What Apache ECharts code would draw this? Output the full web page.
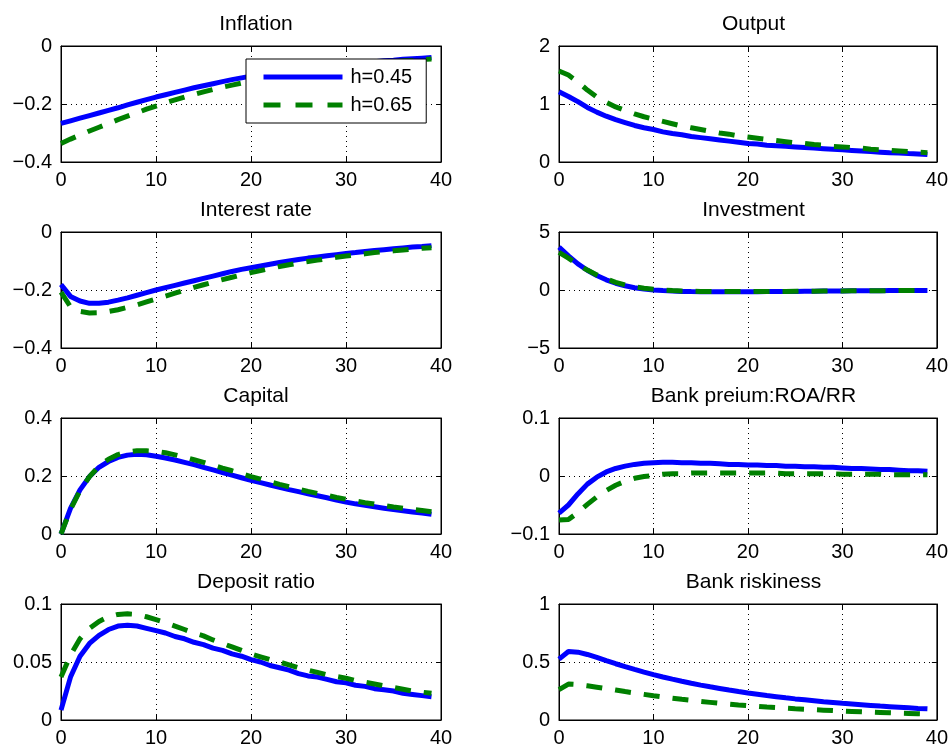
<!DOCTYPE html>
<html><head><meta charset="utf-8">
<script src="https://cdn.jsdelivr.net/npm/echarts@6/dist/echarts.min.js"></script>
<style>html,body{margin:0;padding:0;background:#fff}#c{width:951px;height:751px}</style>
</head><body><div id="c"></div>
<script>
const periods = [0,1,2,3,4,5,6,7,8,9,10,11,12,13,14,15,16,17,18,19,20,21,22,23,24,25,26,27,28,29,30,31,32,33,34,35,36,37,38,39];
const titles = ['Inflation','Output','Interest rate','Investment','Capital','Bank preium:ROA/RR','Deposit ratio','Bank riskiness'];
const seriesNames = ['h=0.45','h=0.65'];
const xTicks = [0,10,20,30,40];
const yMins = [-0.4, 0, -0.4, -5, 0, -0.1, 0, 0];
const yMaxs = [0, 2, 0, 5, 0.4, 0.1, 0.1, 1];
const ySteps = [0.2, 1, 0.2, 5, 0.2, 0.1, 0.05, 0.5];

const inflationA = [-0.267,-0.258,-0.249,-0.240,-0.231,-0.222,-0.213,-0.203,-0.194,-0.185,-0.176,-0.168,-0.160,-0.152,-0.144,-0.137,-0.130,-0.123,-0.116,-0.110,-0.104,-0.099,-0.094,-0.089,-0.084,-0.080,-0.076,-0.072,-0.069,-0.065,-0.062,-0.059,-0.056,-0.054,-0.051,-0.049,-0.046,-0.044,-0.042,-0.040];
const inflationB = [-0.336,-0.321,-0.307,-0.293,-0.280,-0.267,-0.254,-0.242,-0.230,-0.218,-0.207,-0.196,-0.186,-0.176,-0.167,-0.158,-0.150,-0.142,-0.135,-0.128,-0.121,-0.115,-0.109,-0.103,-0.098,-0.093,-0.088,-0.084,-0.079,-0.075,-0.071,-0.068,-0.064,-0.061,-0.058,-0.055,-0.052,-0.050,-0.047,-0.045];
const outputA = [1.21,1.13,1.04,0.94,0.86,0.79,0.73,0.68,0.63,0.59,0.56,0.52,0.49,0.47,0.44,0.42,0.40,0.38,0.36,0.34,0.32,0.31,0.29,0.28,0.27,0.26,0.25,0.24,0.23,0.22,0.21,0.20,0.19,0.18,0.17,0.16,0.155,0.145,0.14,0.13];
const outputB = [1.57,1.50,1.38,1.24,1.12,1.03,0.95,0.89,0.83,0.78,0.74,0.70,0.66,0.62,0.59,0.56,0.53,0.50,0.48,0.45,0.43,0.41,0.39,0.37,0.35,0.33,0.32,0.30,0.29,0.27,0.26,0.25,0.24,0.22,0.21,0.20,0.19,0.18,0.17,0.16];
const rateA = [-0.181,-0.222,-0.238,-0.246,-0.246,-0.242,-0.235,-0.227,-0.218,-0.209,-0.200,-0.192,-0.184,-0.176,-0.168,-0.160,-0.152,-0.144,-0.136,-0.129,-0.123,-0.117,-0.111,-0.105,-0.100,-0.095,-0.090,-0.086,-0.082,-0.078,-0.074,-0.071,-0.067,-0.064,-0.061,-0.058,-0.055,-0.052,-0.050,-0.047];
const rateB = [-0.207,-0.258,-0.274,-0.279,-0.278,-0.274,-0.268,-0.260,-0.251,-0.241,-0.231,-0.221,-0.211,-0.201,-0.191,-0.182,-0.173,-0.164,-0.156,-0.148,-0.140,-0.133,-0.126,-0.119,-0.113,-0.107,-0.102,-0.097,-0.092,-0.087,-0.083,-0.079,-0.075,-0.071,-0.068,-0.065,-0.062,-0.059,-0.056,-0.054];
const investA = [3.70,2.95,2.25,1.70,1.25,0.88,0.58,0.36,0.20,0.08,0.00,-0.05,-0.09,-0.12,-0.14,-0.15,-0.16,-0.16,-0.16,-0.16,-0.15,-0.15,-0.14,-0.13,-0.12,-0.12,-0.11,-0.10,-0.09,-0.09,-0.08,-0.07,-0.07,-0.06,-0.06,-0.05,-0.05,-0.04,-0.04,-0.04];
const investB = [3.25,2.75,2.20,1.72,1.30,0.95,0.66,0.44,0.28,0.15,0.06,0.00,-0.05,-0.08,-0.10,-0.12,-0.13,-0.14,-0.14,-0.14,-0.14,-0.13,-0.13,-0.12,-0.12,-0.11,-0.10,-0.10,-0.09,-0.08,-0.08,-0.07,-0.07,-0.06,-0.06,-0.05,-0.05,-0.04,-0.04,-0.04];
const capitalA = [0.000,0.088,0.152,0.198,0.230,0.250,0.264,0.272,0.275,0.273,0.268,0.262,0.255,0.247,0.239,0.230,0.221,0.212,0.203,0.194,0.185,0.177,0.169,0.161,0.153,0.146,0.139,0.132,0.125,0.117,0.110,0.104,0.099,0.094,0.089,0.084,0.080,0.076,0.072,0.068];
const capitalB = [0.000,0.085,0.150,0.198,0.234,0.258,0.274,0.283,0.287,0.287,0.285,0.280,0.273,0.265,0.256,0.247,0.237,0.227,0.218,0.208,0.198,0.189,0.180,0.171,0.163,0.155,0.147,0.140,0.133,0.126,0.120,0.114,0.108,0.103,0.098,0.093,0.089,0.085,0.081,0.077];
const premiumA = [-0.064,-0.050,-0.031,-0.014,-0.002,0.007,0.013,0.017,0.020,0.022,0.023,0.0235,0.0235,0.023,0.023,0.022,0.022,0.021,0.020,0.020,0.019,0.019,0.018,0.018,0.017,0.017,0.016,0.016,0.015,0.015,0.014,0.013,0.013,0.012,0.011,0.011,0.010,0.009,0.009,0.008];
const premiumB = [-0.076,-0.075,-0.063,-0.049,-0.036,-0.025,-0.016,-0.009,-0.004,-0.001,0.001,0.003,0.004,0.004,0.005,0.005,0.005,0.005,0.005,0.005,0.005,0.005,0.005,0.005,0.004,0.004,0.004,0.004,0.004,0.004,0.003,0.003,0.003,0.003,0.003,0.002,0.002,0.002,0.002,0.002];
const depositA = [0.0085,0.037,0.055,0.066,0.073,0.078,0.081,0.0817,0.081,0.079,0.077,0.075,0.072,0.070,0.067,0.065,0.062,0.060,0.057,0.055,0.052,0.050,0.047,0.045,0.043,0.040,0.038,0.037,0.035,0.033,0.032,0.030,0.029,0.027,0.026,0.025,0.023,0.022,0.021,0.020];
const depositB = [0.037,0.056,0.070,0.079,0.085,0.089,0.091,0.0915,0.091,0.089,0.0865,0.084,0.081,0.078,0.075,0.0725,0.069,0.066,0.063,0.060,0.057,0.0545,0.052,0.050,0.0475,0.045,0.043,0.041,0.039,0.0375,0.036,0.034,0.0325,0.031,0.0295,0.028,0.0265,0.025,0.024,0.023];
const riskA = [0.525,0.590,0.585,0.565,0.540,0.512,0.485,0.460,0.436,0.413,0.391,0.371,0.352,0.334,0.317,0.301,0.286,0.272,0.258,0.245,0.233,0.222,0.211,0.201,0.191,0.182,0.174,0.166,0.158,0.151,0.144,0.138,0.132,0.126,0.120,0.115,0.110,0.105,0.100,0.096];
const riskB = [0.262,0.310,0.305,0.295,0.283,0.271,0.258,0.245,0.233,0.221,0.209,0.198,0.188,0.178,0.169,0.160,0.152,0.144,0.137,0.130,0.124,0.118,0.112,0.107,0.102,0.097,0.093,0.089,0.085,0.081,0.077,0.074,0.071,0.068,0.065,0.062,0.059,0.057,0.054,0.052];

const dataA = [inflationA, outputA, rateA, investA, capitalA, premiumA, depositA, riskA];
const dataB = [inflationB, outputB, rateB, investB, capitalB, premiumB, depositB, riskB];

const FONT = 'Liberation Sans, Arial, Helvetica, sans-serif';
const colLeft = [61, 559], colWidth = [380, 379];
const rowTop = [46, 232, 418, 604], rowHeight = 116;
const BLUE = '#0000ff', GREEN = '#008000';

function fmt(v){ const a = parseFloat(Math.abs(v).toFixed(4)); return (v < 0 ? '\u2212' : '') + a; }

const grids = [], xAxes = [], yAxes = [], series = [], titleArr = [];
for (let i = 0; i < 8; i++) {
  const c = i % 2, r = Math.floor(i / 2);
  grids.push({left: colLeft[c], top: rowTop[r], width: colWidth[c], height: rowHeight, show: true, borderColor: '#000', borderWidth: 1, backgroundColor: '#fff'});
  titleArr.push({text: titles[i], left: colLeft[c] + colWidth[c] / 2, top: rowTop[r] - 37, textAlign: 'center',
    textStyle: {fontFamily: FONT, fontSize: 21, fontWeight: 'normal', color: '#000'}});
  const common = {gridIndex: i, type: 'value', axisLine: {show: true, onZero: false, lineStyle: {color: '#000', width: 1}},
    axisTick: {show: true, inside: true, length: 5, lineStyle: {color: '#000'}}};
  xAxes.push(Object.assign({}, common, {min: xTicks[0], max: xTicks[xTicks.length - 1], interval: 10, position: 'bottom',
    axisLabel: {fontFamily: FONT, fontSize: 20, color: '#000', margin: 8},
    splitLine: {show: true, lineStyle: {color: '#000', type: [1, 4], width: 1}}}));
  xAxes.push(Object.assign({}, common, {min: xTicks[0], max: xTicks[xTicks.length - 1], interval: 10, position: 'top',
    axisLabel: {show: false}, splitLine: {show: false}}));
  yAxes.push(Object.assign({}, common, {min: yMins[i], max: yMaxs[i], interval: ySteps[i], position: 'left',
    axisLabel: {fontFamily: FONT, fontSize: 20, color: '#000', margin: 9, formatter: fmt},
    splitLine: {show: true, lineStyle: {color: '#000', type: [1, 4], width: 1}}}));
  yAxes.push(Object.assign({}, common, {min: yMins[i], max: yMaxs[i], interval: ySteps[i], position: 'right',
    axisLabel: {show: false}, splitLine: {show: false}}));
  series.push({name: seriesNames[0], type: 'line', xAxisIndex: 2 * i, yAxisIndex: 2 * i, symbol: 'none', z: 3,
    data: periods.map((t, k) => [t, dataA[i][k]]), lineStyle: {color: BLUE, width: 5}, itemStyle: {color: BLUE}});
  series.push({name: seriesNames[1], type: 'line', xAxisIndex: 2 * i, yAxisIndex: 2 * i, symbol: 'none', z: 4,
    data: periods.map((t, k) => [t, dataB[i][k]]), lineStyle: {color: GREEN, width: 5, type: [16, 13]}, itemStyle: {color: GREEN}});
}

const chart = echarts.init(document.getElementById('c'), null, {renderer: 'canvas'});
chart.setOption({
  animation: false,
  backgroundColor: '#fff',
  title: titleArr,
  grid: grids,
  xAxis: xAxes,
  yAxis: yAxes,
  series: series,
  legend: {
    data: [
      {name: seriesNames[0], lineStyle: {width: 5, color: BLUE, type: 'solid'}},
      {name: seriesNames[1], lineStyle: {width: 5, color: GREEN, type: [17, 15]}}
    ],
    orient: 'vertical', left: 246, top: 59, backgroundColor: '#fff', borderColor: '#000', borderWidth: 1,
    padding: [8, 14, 8, 15], itemWidth: 79, itemHeight: 20, itemGap: 8, z: 10,
    itemStyle: {opacity: 0},
    textStyle: {fontFamily: FONT, fontSize: 20, color: '#000', padding: [0, 0, 0, 3]}
  }
});
</script></body></html>
